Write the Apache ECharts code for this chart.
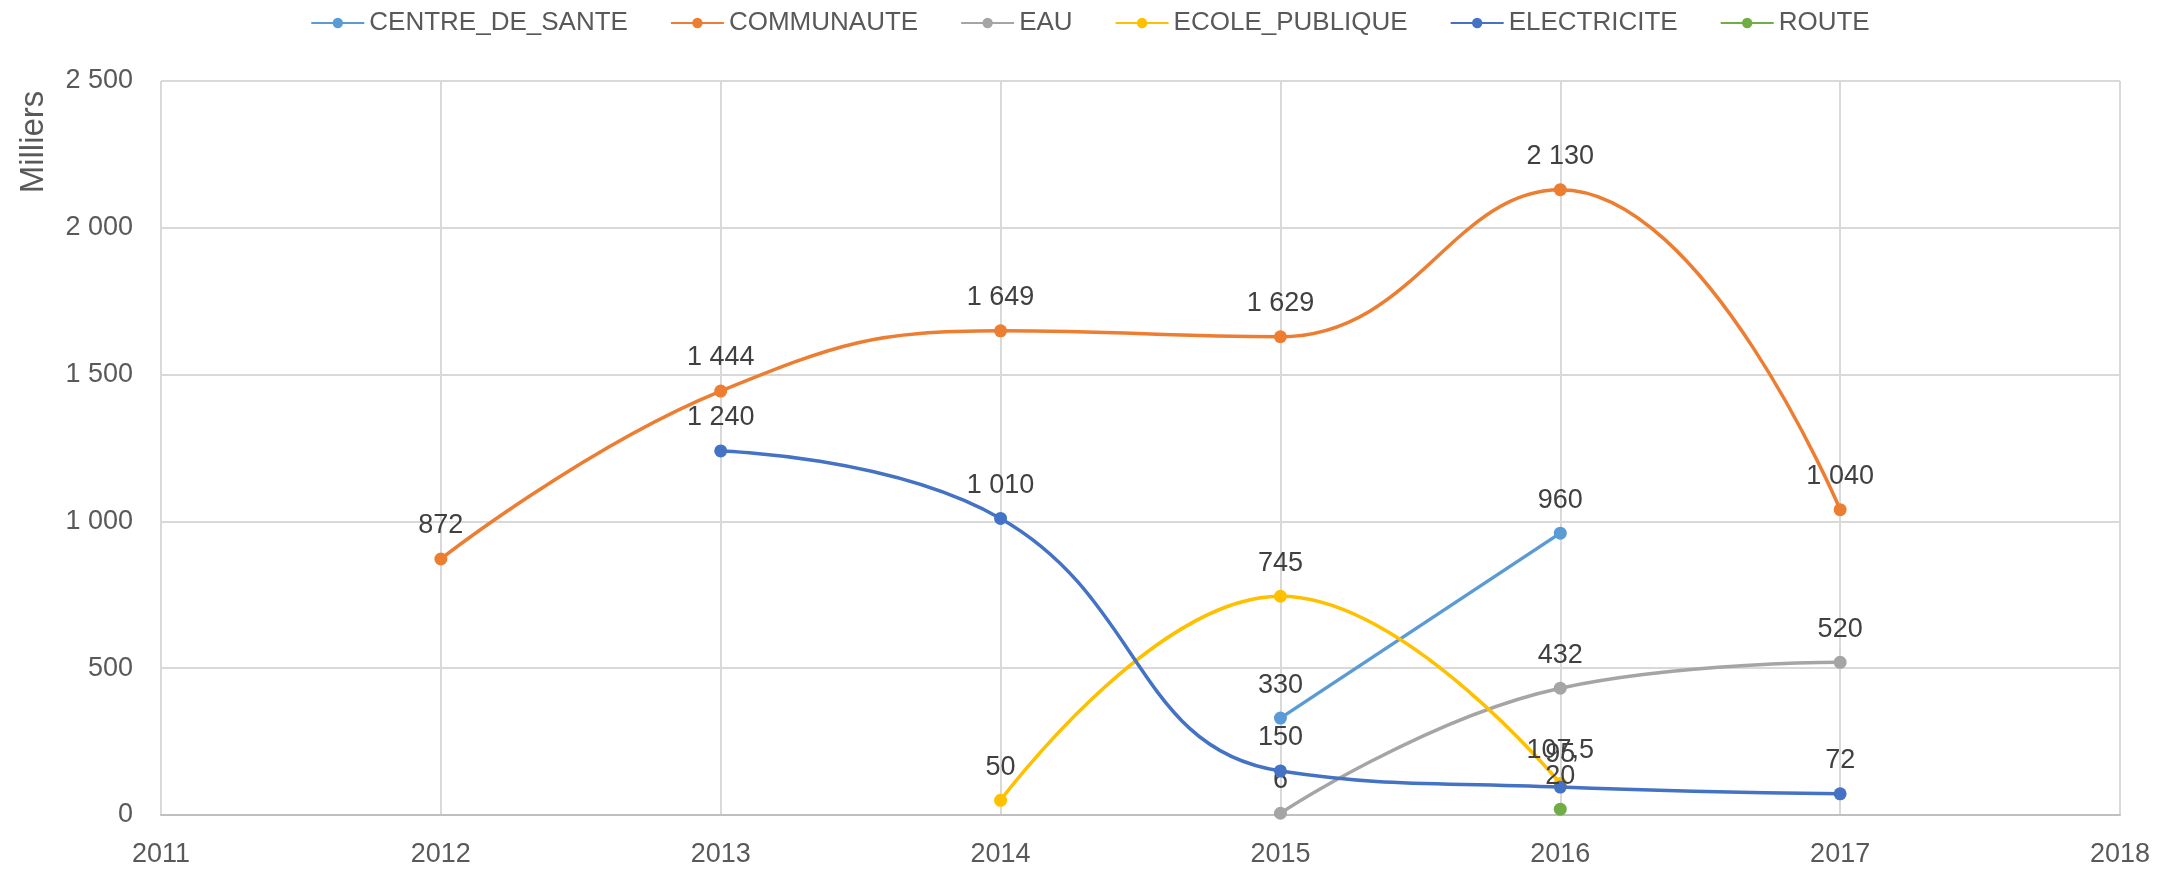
<!DOCTYPE html>
<html>
<head>
<meta charset="utf-8">
<script src="https://cdn.jsdelivr.net/npm/echarts@6/dist/echarts.min.js"></script>
<style>
html,body{margin:0;padding:0;background:#fff;}
#chart{width:2180px;height:871px;}
</style>
</head>
<body>
<div id="chart"></div>
<script>
// Data (values in thousands - "Milliers")
const years = [2012, 2013, 2014, 2015, 2016, 2017];
const seriesNames = ['CENTRE_DE_SANTE', 'COMMUNAUTE', 'EAU', 'ECOLE_PUBLIQUE', 'ELECTRICITE', 'ROUTE'];
const centreDeSante = [null, null, null, 330, 960, null];
const communaute    = [872, 1444, 1649, 1629, 2130, 1040];
const eau           = [null, null, null, 6, 432, 520];
const ecolePublique = [null, null, 50, 745, 107.5, null];
const electricite   = [null, 1240, 1010, 150, 95, 72];
const route         = [null, null, null, null, 20, null];
const xTicks = [2011, 2012, 2013, 2014, 2015, 2016, 2017, 2018];
const yTicks = [0, 500, 1000, 1500, 2000, 2500];

const colors = ['#5B9BD5', '#ED7D31', '#A5A5A5', '#FFC000', '#4472C4', '#70AD47'];
const allValues = [centreDeSante, communaute, eau, ecolePublique, electricite, route];

function fmt(v) {
  const neg = v < 0; v = Math.abs(v);
  let parts = String(v).split('.');
  let intPart = parts[0].replace(/\B(?=(\d{3})+(?!\d))/g, ' ');
  let s = intPart + (parts[1] ? ',' + parts[1] : '');
  return (neg ? '-' : '') + s;
}

const FONT = '"Liberation Sans", Arial, sans-serif';

const series = seriesNames.map((name, i) => {
  const data = [];
  years.forEach((y, j) => { if (allValues[i][j] !== null) data.push([y, allValues[i][j]]); });
  return {
    name: name,
    type: 'line',
    data: data,
    smooth: 0.45,
    symbol: 'circle',
    symbolSize: 13,
    lineStyle: { width: 3.5, color: colors[i] },
    itemStyle: { color: colors[i] },
    label: {
      show: true,
      position: 'top',
      distance: 13,
      fontFamily: FONT,
      fontSize: 27,
      color: '#404040',
      formatter: p => fmt(p.value[1])
    },
    emphasis: { disabled: true },
    z: 2 + i
  };
});

const chart = echarts.init(document.getElementById('chart'), null, { renderer: 'canvas' });
chart.setOption({
  animation: false,
  color: colors,
  textStyle: { fontFamily: FONT },
  legend: {
    top: 5,
    left: 'center',
    itemWidth: 53,
    itemHeight: 13,
    itemGap: 42,
    textStyle: { fontFamily: FONT, fontSize: 26, color: '#595959' },
    data: seriesNames
  },
  grid: { left: 161, right: 60, top: 81, bottom: 56, containLabel: false },
  xAxis: {
    type: 'value',
    min: xTicks[0],
    max: xTicks[xTicks.length - 1],
    interval: 1,
    axisLine: { show: true, lineStyle: { color: '#BFBFBF', width: 2 } },
    axisTick: { show: false },
    axisLabel: { fontFamily: FONT, fontSize: 27, color: '#595959', margin: 26, formatter: v => String(v) },
    splitLine: { show: true, lineStyle: { color: '#D9D9D9', width: 2 } }
  },
  yAxis: {
    type: 'value',
    min: yTicks[0],
    max: yTicks[yTicks.length - 1],
    interval: 500,
    axisLine: { show: false },
    axisTick: { show: false },
    axisLabel: { fontFamily: FONT, fontSize: 27, color: '#595959', margin: 28, formatter: v => fmt(v) },
    splitLine: { show: true, lineStyle: { color: '#D9D9D9', width: 2 } }
  },
  graphic: [{
    type: 'text',
    x: 34,
    y: 142,
    rotation: Math.PI / 2,
    style: {
      text: 'Milliers',
      fontFamily: FONT,
      fontSize: 33,
      fill: '#595959',
      align: 'center',
      verticalAlign: 'middle'
    }
  }],
  series: series
});
</script>
</body>
</html>
